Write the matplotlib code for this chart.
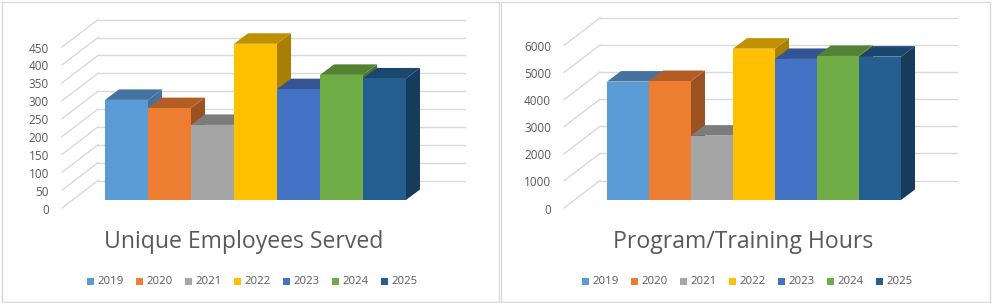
import matplotlib
matplotlib.use("Agg")
import matplotlib.pyplot as plt
from matplotlib.patches import Polygon, Rectangle

plt.rcParams["font.family"] = "Open Sans"

years = ["2019", "2020", "2021", "2022", "2023", "2024", "2025"]
employees = [280, 257, 210, 437, 310, 350, 340]
hours = [4370, 4390, 2375, 5585, 5205, 5315, 5290]
employee_ticks = [0, 50, 100, 150, 200, 250, 300, 350, 400, 450]
hour_ticks = [0, 1000, 2000, 3000, 4000, 5000, 6000]

front = ["#5b9bd5", "#ed7d31", "#a5a5a5", "#ffc000", "#4472c4", "#70ad47", "#255e91"]
top = ["#44739f", "#b15d24", "#7c7c7c", "#bf9000", "#335593", "#548235", "#1b466d"]
side = ["#44739f", "#9c5220", "#6d6d6d", "#a87f00", "#2d4b82", "#4a722f", "#163b5c"]
grid_col = "#d9d9d9"
text_col = "#595959"

W, H = 992, 303
fig = plt.figure(figsize=(W / 100, H / 100), dpi=100, facecolor="white")


def panel(x0, x1, box_l, box_r, bar_l, bar_r, px_per_val, vals, ticks, title, title_x, legend_x):
    # axes cover the whole panel, data x = category, data y = value
    ax = fig.add_axes([x0 / W, 0, (x1 - x0) / W, 1])
    cat_w = (bar_r - bar_l) / 7
    base = 200
    ax.set_xlim((x0 - bar_l) / cat_w, (x1 - bar_l) / cat_w)
    ax.set_ylim((base - H) / px_per_val, base / px_per_val)
    ax.axis("off")

    dx = 14 / cat_w
    dy = 10.5 / px_per_val

    def px(x, y):
        return (x - bar_l) / cat_w, (base - y) / px_per_val

    ax.add_patch(Rectangle(px(box_l, 301.5), (box_r - box_l) / cat_w, 300 / px_per_val,
                           fc="white", ec="#d9d9d9", lw=1))

    # walls: grid on back wall and side wall
    back_x, grid_r = px(bar_l - 7, 0)[0], px(x1 - 35, 0)[0]
    left_x = px(bar_l - 43, 0)[0]
    label_x = px(bar_l - 56, 0)[0]
    back_dy = 19.5 / px_per_val
    front_dy = -8 / px_per_val
    label_dy = -10 / px_per_val
    for t in ticks:
        ax.plot([left_x, back_x], [t + front_dy, t + back_dy], color=grid_col, lw=1, zorder=1)
        ax.plot([back_x, grid_r], [t + back_dy, t + back_dy], color=grid_col, lw=1, zorder=1)
        ax.text(label_x, t + label_dy, str(t), ha="right", va="center", fontsize=8.5, color=text_col)

    # bars left to right, later ones cover side faces of earlier ones
    for i, v in enumerate(vals):
        ax.add_patch(Polygon([(i + 1, 0), (i + 1 + dx, dy), (i + 1 + dx, v + dy), (i + 1, v)],
                             fc=side[i], ec="none", zorder=2 + i))
        ax.add_patch(Polygon([(i, v), (i + dx, v + dy), (i + 1 + dx, v + dy), (i + 1, v)],
                             fc=top[i], ec="none", zorder=2 + i))
        ax.add_patch(Rectangle((i, 0), 1, v, fc=front[i], ec="none", zorder=2 + i))

    tx, ty = px(title_x, 242.5)
    ax.text(tx, ty, title, ha="center", va="center", fontsize=16.6, color=text_col)

    # legend
    for i, y in enumerate(years):
        lx = legend_x + i * 49
        ax.add_patch(Rectangle(px(lx, 285), 7 / cat_w, 7.5 / px_per_val, fc=front[i], ec="none"))
        ax.text(*px(lx + 10.5, 281.5), y, ha="left", va="center", fontsize=8.2, color=text_col)


panel(0, 500, 1.5, 499.5, 105, 406, 0.3575, employees, employee_ticks, "Unique Employees Served", 244, 87)
panel(500, 992, 500.5, 989.5, 607, 901, 0.0271, hours, hour_ticks, "Program/Training Hours", 743, 582)

fig.savefig("out.png", dpi=100)
